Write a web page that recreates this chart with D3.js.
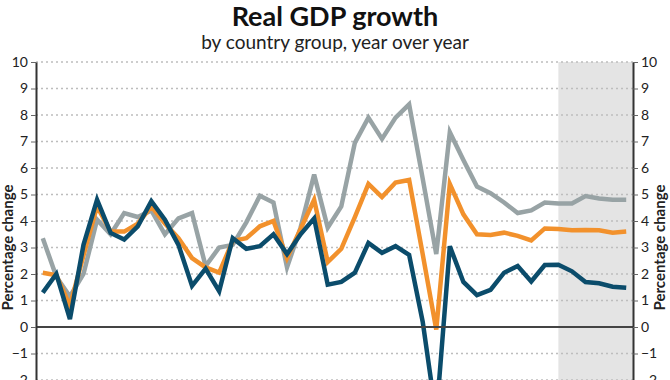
<!DOCTYPE html>
<html>
<head>
<meta charset="utf-8">
<script src="https://cdn.jsdelivr.net/npm/d3@7"></script>
<style>
  html, body { margin: 0; padding: 0; background: #fff; }
  svg { display: block; font-family: Lato, "Open Sans", sans-serif; }
</style>
</head>
<body>
<svg id="chart" width="670" height="380"></svg>
<script>
const years = d3.range(1980, 2024);
const advanced = [1.3, 2.0, 0.3, 3.1, 4.8, 3.55, 3.3, 3.8, 4.75, 4.05,
  3.1, 1.55, 2.2, 1.35, 3.35, 2.95, 3.05, 3.5, 2.75, 3.5,
  4.1, 1.6, 1.7, 2.05, 3.17, 2.8, 3.05, 2.72, 0.2, -3.4,
  3.05, 1.7, 1.2, 1.4, 2.05, 2.3, 1.72, 2.34, 2.35, 2.1,
  1.7, 1.65, 1.52, 1.48];
const world = [2.05, 1.95, 0.8, 2.7, 4.55, 3.6, 3.6, 3.9, 4.55, 3.9,
  3.35, 2.6, 2.25, 2.05, 3.25, 3.35, 3.8, 4.0, 2.6, 3.7,
  4.8, 2.45, 2.95, 4.15, 5.4, 4.9, 5.45, 5.55, 2.75, -0.1,
  5.4, 4.25, 3.5, 3.47, 3.56, 3.44, 3.27, 3.72, 3.7, 3.65,
  3.66, 3.65, 3.56, 3.6];
const emerging = [3.35, 1.9, 1.15, 2.0, 4.05, 3.5, 4.3, 4.15, 4.4, 3.5,
  4.1, 4.3, 2.3, 3.0, 3.1, 3.95, 4.95, 4.7, 2.25, 3.75,
  5.75, 3.75, 4.55, 6.95, 7.9, 7.1, 7.9, 8.4, 5.6, 2.75,
  7.35, 6.3, 5.3, 5.05, 4.7, 4.3, 4.4, 4.7, 4.66, 4.66,
  4.94, 4.85, 4.8, 4.8];
const yTicks = [-4, -3, -2, -1, 0, 1, 2, 3, 4, 5, 6, 7, 8, 9, 10];
const forecastStart = 2018;
const title = "Real GDP growth";
const subtitle = "by country group, year over year";
const axisLabel = "Percentage change";

const series = [
  { name: "Emerging", values: emerging, color: "#98a3a5" },
  { name: "World", values: world, color: "#f2912c" },
  { name: "Advanced", values: advanced, color: "#0b4c6b" }
];

const svg = d3.select("#chart");
const pLeft = 36, pRight = 633, pTop = 62, pBottom = 433;

const x = d3.scalePoint().domain(years).range([pLeft, pRight]).padding(0.5);
const y = d3.scaleLinear().domain([-4, 10]).range([pBottom, pTop]);

// forecast shading
svg.append("rect")
  .attr("x", x(forecastStart)).attr("y", y(10))
  .attr("width", pRight - x(forecastStart)).attr("height", y(-4) - y(10))
  .attr("fill", "#e4e4e4");

// grid lines
svg.append("g").selectAll("line")
  .data(yTicks.filter(d => d !== 0))
  .join("line")
  .attr("x1", pLeft).attr("x2", pRight)
  .attr("y1", d => y(d)).attr("y2", d => y(d))
  .attr("stroke", "#bdbdbd").attr("stroke-width", 1.5)
  .attr("stroke-dasharray", "2,3");

// lines
const line = d3.line().x((d, i) => x(years[i])).y(d => y(d));
svg.append("g").selectAll("path")
  .data(series)
  .join("path")
  .attr("d", d => line(d.values))
  .attr("fill", "none")
  .attr("stroke", d => d.color)
  .attr("stroke-width", 4.5)
  .attr("stroke-linejoin", "miter");

// zero line
svg.append("line")
  .attr("x1", pLeft).attr("x2", pRight)
  .attr("y1", y(0)).attr("y2", y(0))
  .attr("stroke", "#444").attr("stroke-width", 2);

// axes
const axL = svg.append("g").attr("transform", `translate(${pLeft},0)`)
  .call(d3.axisLeft(y).tickValues(yTicks).tickSize(5).tickSizeOuter(0).tickPadding(3));
const axR = svg.append("g").attr("transform", `translate(${pRight},0)`)
  .call(d3.axisRight(y).tickValues(yTicks).tickSize(5).tickSizeOuter(0).tickPadding(3));
[axL, axR].forEach(ax => {
  ax.select(".domain").attr("stroke", "#333").attr("stroke-width", 2);
  ax.selectAll(".tick line").attr("stroke", "#666").attr("stroke-width", 1);
  ax.selectAll(".tick text").attr("fill", "#222")
    .style("font-size", "14px").style("font-family", "Lato, sans-serif");
});

// axis titles
const midY = (pTop + pBottom) / 2;
svg.append("text")
  .attr("transform", `translate(9,${midY}) rotate(-90)`)
  .attr("text-anchor", "middle").attr("dominant-baseline", "middle")
  .style("font-size", "15px").style("font-weight", "bold").attr("fill", "#222")
  .text(axisLabel);
svg.append("text")
  .attr("transform", `translate(661,${midY}) rotate(-90)`)
  .attr("text-anchor", "middle").attr("dominant-baseline", "middle")
  .style("font-size", "15px").style("font-weight", "bold").attr("fill", "#222")
  .text(axisLabel);

// titles
svg.append("text")
  .attr("x", 335).attr("y", 26).attr("text-anchor", "middle")
  .style("font-size", "27px").style("font-weight", "bold").attr("fill", "#111")
  .text(title);
svg.append("text")
  .attr("x", 335).attr("y", 49).attr("text-anchor", "middle")
  .style("font-size", "19px").attr("fill", "#222")
  .text(subtitle);
</script>
</body>
</html>
